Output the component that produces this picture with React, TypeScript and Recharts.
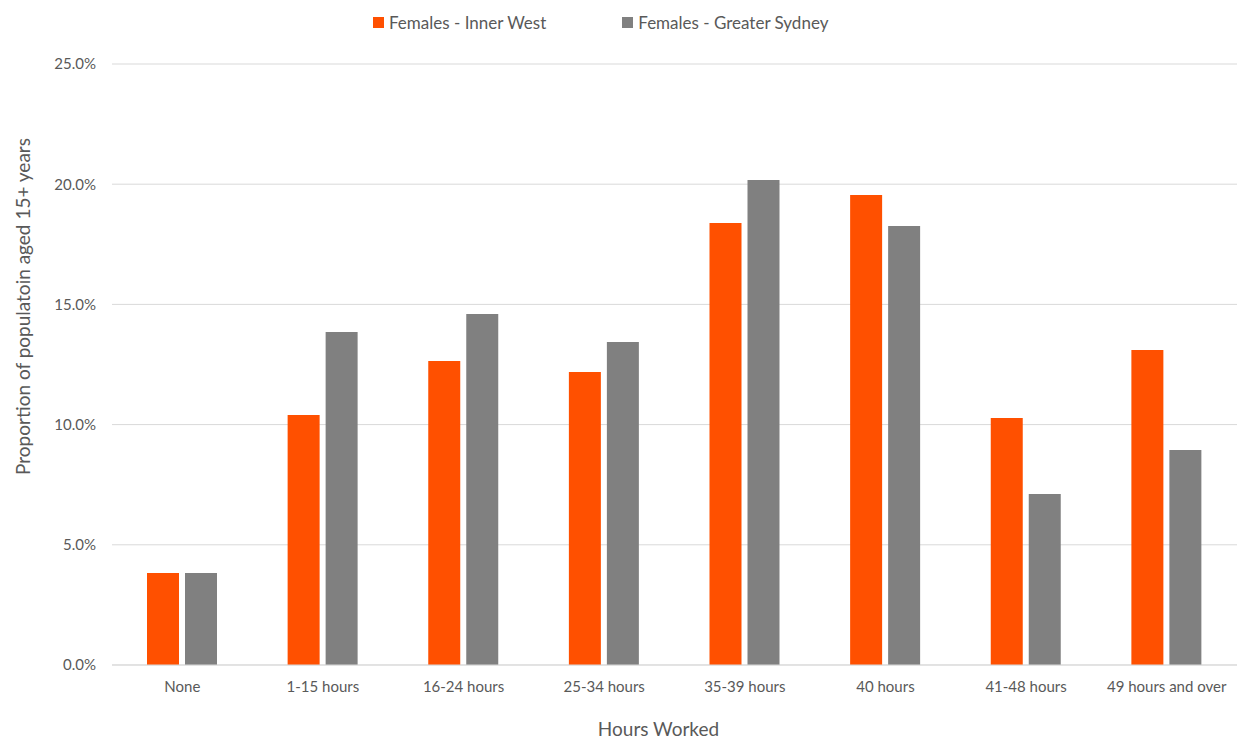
import React from 'react';
import { BarChart, Bar, XAxis, YAxis, CartesianGrid, Legend } from 'recharts';

const categories = ['None', '1-15 hours', '16-24 hours', '25-34 hours', '35-39 hours', '40 hours', '41-48 hours', '49 hours and over'];
const innerWest = [3.83, 10.4, 12.65, 12.19, 18.39, 19.55, 10.27, 13.1];
const greaterSydney = [3.83, 13.85, 14.6, 13.44, 20.17, 18.26, 7.11, 8.94];
const yTicks = [0, 5, 10, 15, 20, 25];

const SERIES = [
  { key: 'iw', name: 'Females - Inner West', color: '#FF5000' },
  { key: 'gs', name: 'Females - Greater Sydney', color: '#808080' },
];

const data = categories.map((c, i) => ({ cat: c, iw: innerWest[i], gs: greaterSydney[i] }));

const FONT = 'Lato, "Open Sans", sans-serif';
const TXT = '#595959';

const LegendContent = () => (
  <div style={{ display: 'flex', justifyContent: 'flex-start', fontFamily: FONT, fontSize: 17, color: TXT, paddingLeft: 373, height: 20, alignItems: 'center' }}>
    {SERIES.map((s, i) => (
      <div key={s.key} style={{ display: 'flex', alignItems: 'center', marginRight: i === 0 ? 76 : 0 }}>
        <span style={{ width: 11, height: 11, background: s.color, display: 'inline-block', marginRight: 5 }} />
        <span>{s.name}</span>
      </div>
    ))}
  </div>
);

const YLabel = (props: any) => {
  const vb = props.viewBox || {};
  const cx = 22;
  const cy = (vb.y ?? 64) + (vb.height ?? 601) / 2 - 58;
  return (
    <text
      x={cx}
      y={cy}
      transform={`rotate(-90, ${cx}, ${cy})`}
      textAnchor="middle"
      dominantBaseline="central"
      fill={TXT}
      fontSize={19}
      fontFamily={FONT}
    >
      Proportion of populatoin aged 15+ years
    </text>
  );
};

export default function App() {
  return (
    <div style={{ position: 'absolute', left: 0, top: 0, width: 1238, height: 740, background: '#fff' }}>
      <BarChart
        width={1238}
        height={740}
        data={data}
        margin={{ top: 44, right: 1, bottom: 45, left: 0 }}
        barCategoryGap={35}
        barGap={6}
      >
        <CartesianGrid vertical={false} stroke="#d9d9d9" />
        <XAxis
          dataKey="cat"
          tickLine={false}
          axisLine={{ stroke: '#d9d9d9' }}
          tick={{ fill: TXT, fontSize: 15, fontFamily: FONT }}
          tickMargin={10}
          interval={0}
          label={{ value: 'Hours Worked', position: 'insideBottom', offset: -41, dx: -16, fill: TXT, fontSize: 19, fontFamily: FONT }}
        />
        <YAxis
          width={112}
          domain={[0, 25]}
          ticks={yTicks}
          tickFormatter={(v: number) => v.toFixed(1) + '%'}
          tickLine={false}
          axisLine={false}
          tickMargin={10}
          tick={{ fill: TXT, fontSize: 15, fontFamily: FONT }}
          label={<YLabel />}
        />
        <Legend verticalAlign="top" align="left" wrapperStyle={{ top: 12, left: 0, width: 1238 }} content={<LegendContent />} />
        {SERIES.map((s) => (
          <Bar key={s.key} dataKey={s.key} name={s.name} fill={s.color} isAnimationActive={false} />
        ))}
      </BarChart>
    </div>
  );
}
